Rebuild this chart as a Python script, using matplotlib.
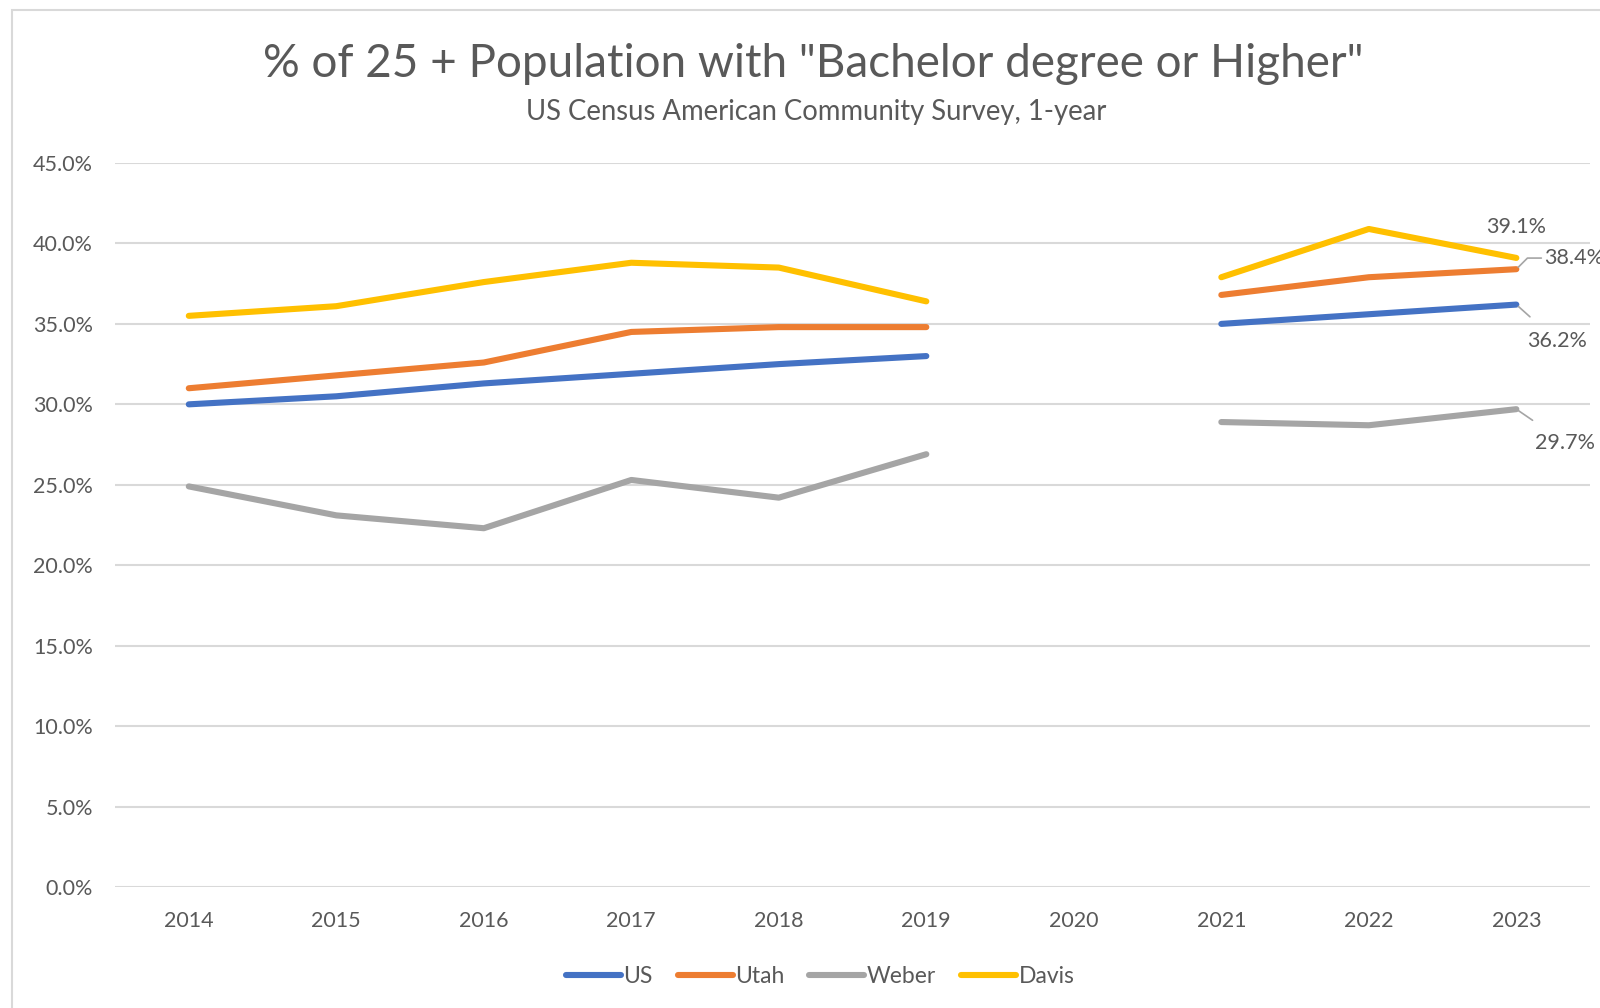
import numpy as np
import matplotlib.pyplot as plt
from matplotlib.patches import Rectangle

years = ["2014", "2015", "2016", "2017", "2018", "2019", "2020", "2021", "2022", "2023"]
us = [30.0, 30.5, 31.3, 31.9, 32.5, 33.0, np.nan, 35.0, 35.6, 36.2]
utah = [31.0, 31.8, 32.6, 34.5, 34.8, 34.8, np.nan, 36.8, 37.9, 38.4]
weber = [24.9, 23.1, 22.3, 25.3, 24.2, 26.9, np.nan, 28.9, 28.7, 29.7]
davis = [35.5, 36.1, 37.6, 38.8, 38.5, 36.4, np.nan, 37.9, 40.9, 39.1]

plt.rcParams['font.family'] = ['Lato', 'DejaVu Sans']
txt = "#595959"

fig = plt.figure(figsize=(16, 10.08), dpi=100)
ax = fig.add_axes([0.0719, 0.12, 0.9219, 0.7183])

# chart frame
fig.patches.append(Rectangle((12 / 1600, -0.1), 1.2, 1 - 10 / 1008 + 0.1,
                             transform=fig.transFigure, fill=False,
                             edgecolor="#D9D9D9", lw=1.5))

x = np.arange(len(years))
series = [("US", us, "#4472C4"), ("Utah", utah, "#ED7D31"),
          ("Weber", weber, "#A5A5A5"), ("Davis", davis, "#FFC000")]
for name, vals, col in series:
    ax.plot(x, np.array(vals) / 100, color=col, lw=4.4, label=name,
            solid_capstyle="round", solid_joinstyle="round")

ax.set_xlim(-0.5, len(years) - 0.5)
ax.set_ylim(0, 0.45)
ax.set_yticks(np.arange(0, 0.4501, 0.05))
ax.set_yticklabels([f"{v * 100:.1f}%" for v in np.arange(0, 0.4501, 0.05)])
ax.set_xticks(x)
ax.set_xticklabels(years)
ax.tick_params(length=0, labelsize=15.5, colors=txt, pad=17)
ax.tick_params(axis="y", pad=16)
ax.grid(axis="y", color="#D9D9D9", lw=1.5)
ax.set_axisbelow(True)
for s in ax.spines.values():
    s.set_visible(False)

# end labels (38.4% runs off the right edge as in the original)
ax.annotate("39.1%", (9, davis[9] / 100), xytext=(0, 22), textcoords="offset points",
            ha="center", va="center", fontsize=15.5, color=txt)
ax.annotate("38.4%", (9, utah[9] / 100), xytext=(20, 8), textcoords="offset points",
            ha="left", va="center", fontsize=15.5, color=txt,
            arrowprops=dict(arrowstyle="-", color="#A5A5A5", lw=1.2,
                            connectionstyle="angle,angleA=0,angleB=45,rad=0",
                            shrinkA=0, shrinkB=2))
ax.annotate("36.2%", (9, us[9] / 100), xytext=(29, -26), textcoords="offset points",
            ha="center", va="center", fontsize=15.5, color=txt,
            arrowprops=dict(arrowstyle="-", color="#A5A5A5", lw=1.2,
                            shrinkA=12, shrinkB=2))
ax.annotate("29.7%", (9, weber[9] / 100), xytext=(35, -24), textcoords="offset points",
            ha="center", va="center", fontsize=15.5, color=txt,
            arrowprops=dict(arrowstyle="-", color="#A5A5A5", lw=1.2,
                            shrinkA=12, shrinkB=2))

fig.text(0.508, 0.937, '% of 25 + Population with "Bachelor degree or Higher"',
         ha="center", va="center", fontsize=33, color=txt)
fig.text(0.51, 0.889, "US Census American Community Survey, 1-year",
         ha="center", va="center", fontsize=19.8, color=txt)

fig.legend(loc="center", bbox_to_anchor=(0.5125, 0.031), ncol=4, frameon=False,
           fontsize=16.5, labelcolor=txt, handlelength=2.4, handletextpad=0.1,
           columnspacing=1.1)

fig.savefig("out.png", dpi=100)
